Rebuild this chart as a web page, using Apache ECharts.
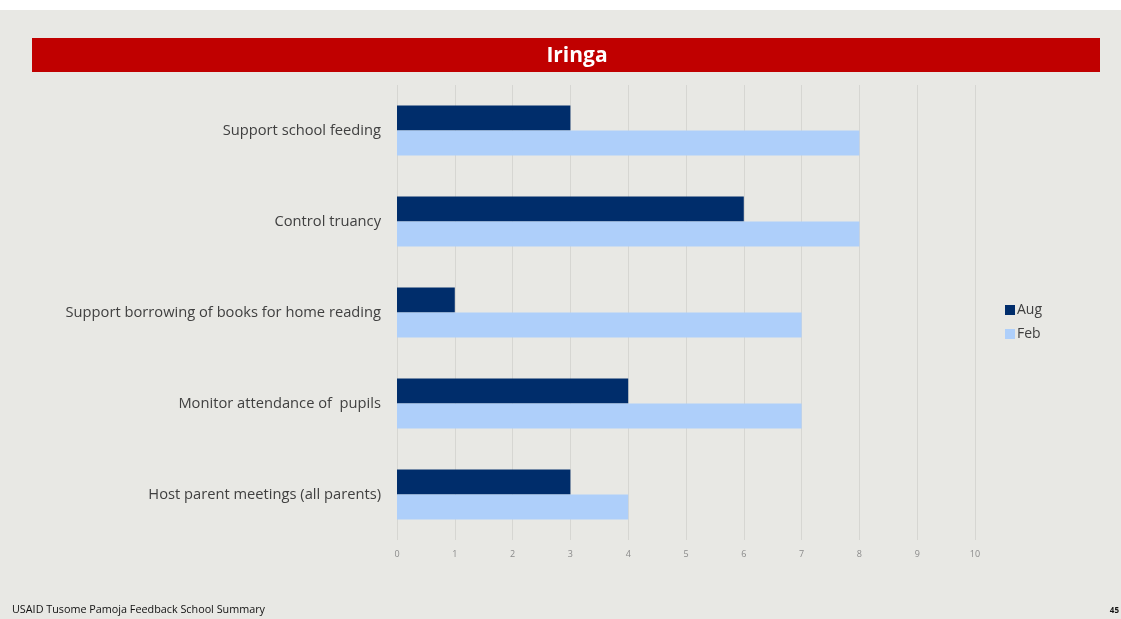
<!DOCTYPE html>
<html>
<head>
<meta charset="utf-8">
<script src="https://cdn.jsdelivr.net/npm/echarts@6/dist/echarts.min.js"></script>
<style>
  html, body { margin: 0; padding: 0; background: #e8e8e4; }
  #chart { width: 1121px; height: 619px; }
</style>
</head>
<body>
<div id="chart"></div>
<script>
// Activities reported, top to bottom
const categories = [
  'Support school feeding',
  'Control truancy',
  'Support borrowing of books for home reading',
  'Monitor attendance of  pupils',
  'Host parent meetings (all parents)'
];
const augValues = [3, 6, 1, 4, 3];
const febValues = [8, 8, 7, 7, 4];
const xTicks = [0, 1, 2, 3, 4, 5, 6, 7, 8, 9, 10];

const chart = echarts.init(document.getElementById('chart'));
chart.setOption({
  backgroundColor: '#e8e8e4',
  animation: false,
  graphic: [
    { type: 'rect', left: 0, top: 0, shape: { width: 1121, height: 10 }, style: { fill: '#ffffff' }, z: -1 },
    { type: 'rect', left: 32, top: 38, shape: { width: 1068, height: 34 }, style: { fill: '#c00000' } },
    { type: 'text', x: 577, y: 56, style: { text: 'Iringa', fill: '#ffffff', font: 'bold 21px "Open Sans", sans-serif', align: 'center', verticalAlign: 'middle' } },
    { type: 'text', left: 12, top: 604, style: { text: 'USAID Tusome Pamoja Feedback School Summary', fill: '#111111', font: '10.8px "Open Sans", sans-serif' } },
    { type: 'text', right: 2, top: 607, style: { text: '45', fill: '#111111', font: 'bold 8px "Open Sans", sans-serif' } }
  ],
  legend: {
    orient: 'vertical',
    left: 1000,
    top: 298,
    itemWidth: 10,
    itemHeight: 10,
    itemGap: 10,
    icon: 'rect',
    textStyle: { color: '#404040', fontSize: 14, fontFamily: 'Open Sans', padding: [0, 0, 0, -3] },
    data: ['Aug', 'Feb']
  },
  grid: { left: 397, right: 146, top: 85, bottom: 79 },
  xAxis: {
    type: 'value',
    min: 0,
    max: 10,
    interval: 1,
    axisLine: { show: false },
    axisTick: { show: false },
    axisLabel: {
      color: '#8a8a8a', fontSize: 9, fontFamily: 'Open Sans', margin: 10,
      formatter: v => xTicks.includes(v) ? String(v) : ''
    },
    splitLine: { lineStyle: { color: '#d6d6d2', width: 1 } }
  },
  yAxis: {
    type: 'category',
    inverse: true,
    data: categories,
    axisLine: { show: false },
    axisTick: { show: false },
    axisLabel: { color: '#404040', fontSize: 14.7, fontFamily: 'Open Sans', margin: 16 }
  },
  series: [
    { name: 'Aug', type: 'bar', data: augValues, barGap: '0%', barCategoryGap: '45%', itemStyle: { color: '#002d6b' } },
    { name: 'Feb', type: 'bar', data: febValues, barGap: '0%', barCategoryGap: '45%', itemStyle: { color: '#aecffa' } }
  ]
});
</script>
</body>
</html>
